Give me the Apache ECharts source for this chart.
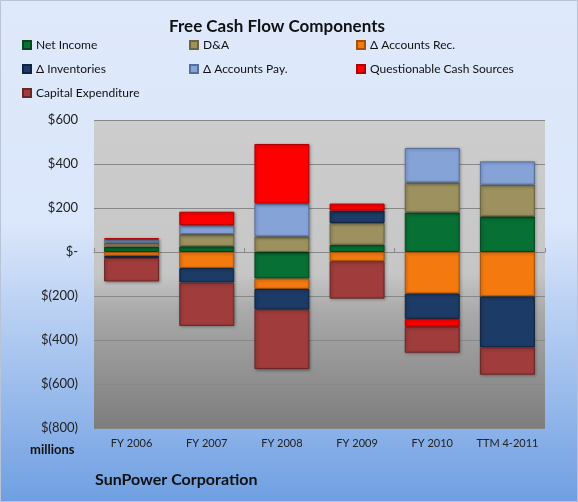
<!DOCTYPE html>
<html>
<head>
<meta charset="utf-8">
<script src="https://cdn.jsdelivr.net/npm/echarts@6/dist/echarts.min.js"></script>
<style>
  html, body { margin: 0; padding: 0; }
  #chart { width: 578px; height: 502px; }
</style>
</head>
<body>
<div id="chart"></div>
<script>
// categories
const years = ["FY 2006", "FY 2007", "FY 2008", "FY 2009", "FY 2010", "TTM 4-2011"]

// components, $ millions
const netIncome = [24, 26, -121, 33, 180, 162]
const depAmort = [18, 55, 71, 99, 136, 144]
const acctsRec = [-18, -73, -47, -42, -189, -202]
const inventories = [-9, -66, -94, 56, -115, -232]
const acctsPay = [14, 41, 149, 0, 157, 106]
const questionable = [7, 61, 271, 32, -36, 0]
const capex = [-107, -197, -270, -170, -118, -124]

const yTicks = [-800, -600, -400, -200, 0, 200, 400, 600]

const seriesDefs = [
  ["Net Income", netIncome, "#077034", "#04481f"],
  ["D&A", depAmort, "#9c915f", "#6b6440"],
  ["\u0394 Accounts Rec.", acctsRec, "#f47a10", "#a85208"],
  ["\u0394 Inventories", inventories, "#1c3b66", "#102440"],
  ["\u0394 Accounts Pay.", acctsPay, "#86a3d8", "#566f9c"],
  ["Questionable Cash Sources", questionable, "#ff0000", "#b00000"],
  ["Capital Expenditure", capex, "#a03c3c", "#6a2626"]
]

const fontFam = "Lato, 'Open Sans', sans-serif"

function money(v) {
  if (v === 0) return "$-"
  if (v < 0) return "$(" + Math.abs(v) + ")"
  return "$" + v
}

const chart = echarts.init(document.getElementById("chart"))

const option = {
  backgroundColor: {
    type: "linear", x: 0, y: 0, x2: 0, y2: 1,
    colorStops: [
      { offset: 0, color: "#dfe9fb" },
      { offset: 0.45, color: "#dae6fa" },
      { offset: 1, color: "#6f9fe2" }
    ]
  },
  title: {
    text: "Free Cash Flow Components",
    left: 272,
    textAlign: "center",
    top: 13,
    textStyle: { fontFamily: fontFam, fontSize: 17, fontWeight: "bold", color: "#111" }
  },
  legend: {
    left: 22,
    top: 38,
    padding: 0,
    width: 540,
    itemWidth: 8,
    itemHeight: 8,
    itemGap: 10,
    icon: "rect",
    textStyle: {
      fontFamily: fontFam, fontSize: 12, color: "#111",
      width: 143, lineHeight: 14
    },
    data: seriesDefs.map(d => d[0])
  },
  grid: {
    left: 94, right: 33, top: 120, bottom: 74,
    show: true,
    borderWidth: 0,
    backgroundColor: {
      type: "linear", x: 0, y: 0, x2: 0, y2: 1,
      colorStops: [
        { offset: 0, color: "#cdcdcd" },
        { offset: 0.5, color: "#c6c6c6" },
        { offset: 0.62, color: "#a9a9a9" },
        { offset: 1, color: "#7d7d7d" }
      ]
    }
  },
  xAxis: [
    {
      type: "category",
      data: years,
      axisLine: { show: false, onZero: false },
      axisTick: { show: false },
      axisLabel: { interval: 0, margin: 10, fontFamily: fontFam, fontSize: 11, color: "#222" }
    },
    {
      type: "category",
      data: years,
      position: "bottom",
      axisLine: { onZero: true, lineStyle: { color: "#888", width: 1 } },
      axisTick: { show: true, inside: true, length: 4, lineStyle: { color: "#888" } },
      axisLabel: { show: false }
    }
  ],
  yAxis: {
    type: "value",
    min: yTicks[0],
    max: yTicks[yTicks.length - 1],
    interval: 200,
    axisLine: { show: false },
    axisTick: { show: false },
    splitLine: { lineStyle: { color: "#888", width: 1 } },
    axisLabel: {
      margin: 16,
      fontFamily: fontFam, fontSize: 13, color: "#222",
      formatter: money
    }
  },
  graphic: [
    {
      type: "rect",
      shape: { x: 0.5, y: 0.5, width: 577, height: 501 },
      style: { fill: null, stroke: "#b8c4d6", lineWidth: 1 }
    },
    {
      type: "text", left: 30, top: 443,
      style: { text: "millions", font: "bold 13px " + fontFam, fill: "#111" }
    },
    {
      type: "text", left: 95, top: 472,
      style: { text: "SunPower Corporation", font: "bold 16px " + fontFam, fill: "#111" }
    }
  ],
  series: seriesDefs.map(([name, vals, color, border]) => ({
    name: name,
    type: "bar",
    stack: "fcf",
    xAxisIndex: 0,
    barWidth: 55,
    // zero-size segments would still show a border line, so skip them
    data: vals.map(v => (v === 0 ? "-" : v)),
    itemStyle: {
      color: color,
      borderColor: border,
      borderWidth: 1,
      shadowColor: "rgba(0,0,0,0.35)",
      shadowBlur: 3,
      shadowOffsetX: 1,
      shadowOffsetY: 1
    }
  }))
}

chart.setOption(option)
</script>
</body>
</html>
